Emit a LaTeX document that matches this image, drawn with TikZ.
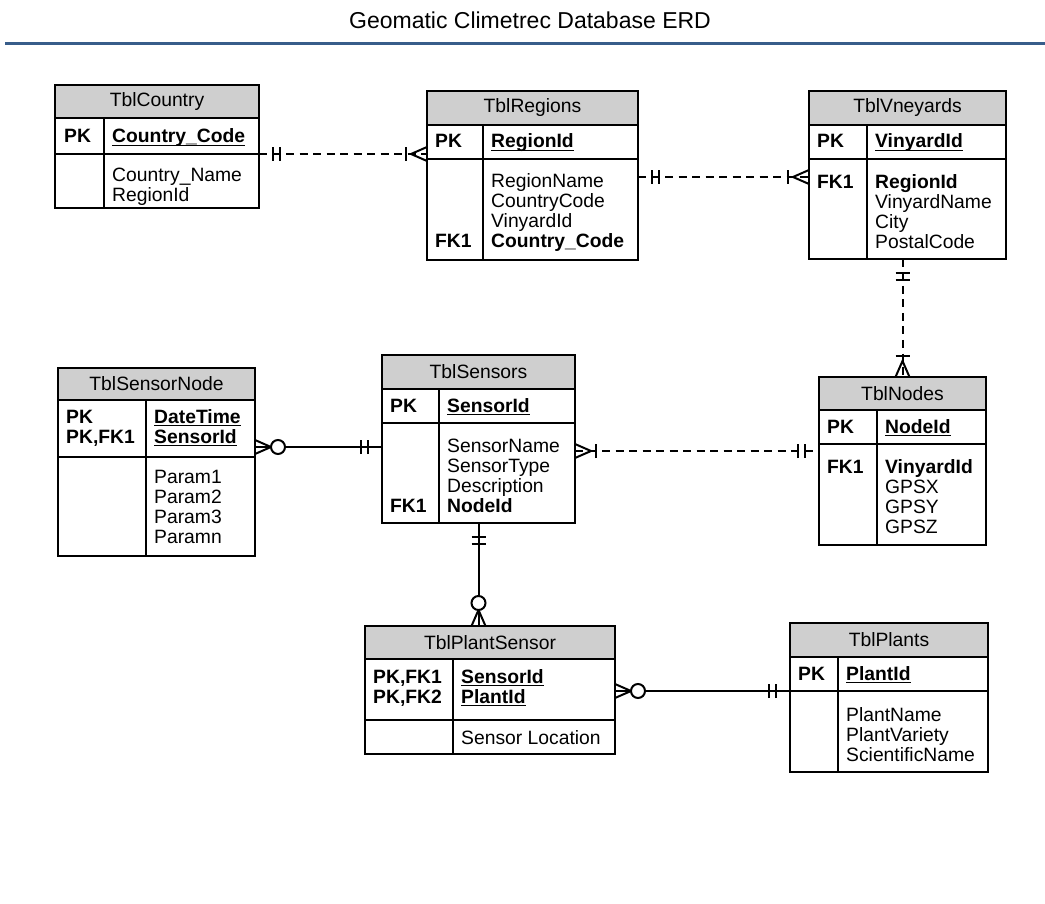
\documentclass[tikz,border=0pt]{standalone}
\usepackage{fontspec}
\setmainfont{Liberation Sans}
\usetikzlibrary{arrows,calc,positioning,decorations.markings}
\definecolor{erd_grey}{RGB}{207, 207, 207}
\definecolor{erd_blue}{RGB}{56, 93, 138}
\newcommand{\ulkey}[1]{\setbox0\hbox{#1}\rlap{\rule[-3pt]{\wd0}{1.3pt}}\box0}
\tikzstyle{ttl}=[inner sep=0pt,font=\fontsize{23}{26}\selectfont]
\tikzstyle{hd}=[rectangle,fill=erd_grey,draw=black,line width=1.5pt,
  inner sep=0pt,outer sep=0pt,anchor=north west,font=\fontsize{19.3}{20}\selectfont]
\tikzstyle{tb}=[rectangle,fill=white,draw=black,line width=1.5pt,
  inner sep=0pt,outer sep=0pt]
\tikzstyle{sep}=[line width=1.5pt]
% base of a text = base of its last line
\tikzstyle{kt}=[anchor=base west,inner sep=0pt,align=left,
  font=\bfseries\fontsize{19.3}{20}\selectfont]
\tikzstyle{ft}=[anchor=base west,inner sep=0pt,align=left,
  font=\fontsize{19.3}{20}\selectfont]
\tikzstyle{rel}=[line width=2pt]
\tikzstyle{dsh}=[line width=2pt,dash pattern=on 8pt off 5.5pt]
% crow's foot ends
\tikzstyle{onestart}=[postaction={decorate,decoration={markings,
  mark=at position 14pt with {\draw [solid] (0pt,-7pt) -- (0pt,7pt);},
  mark=at position 21pt with {\draw [solid] (0pt,-7pt) -- (0pt,7pt);}}}]
\tikzstyle{oneend}=[postaction={decorate,decoration={markings,
  mark=at position -14pt with {\draw [solid] (0pt,-7pt) -- (0pt,7pt);},
  mark=at position -21pt with {\draw [solid] (0pt,-7pt) -- (0pt,7pt);}}}]
\tikzstyle{manystart}=[postaction={decorate,decoration={markings,
  mark=at position 16pt with {\draw [solid] (-16pt,-7pt) -- (0pt,0pt) -- (-16pt,7pt);},
  mark=at position 21pt with {\draw [solid] (0pt,-7pt) -- (0pt,7pt);}}}]
\tikzstyle{manyend}=[postaction={decorate,decoration={markings,
  mark=at position -16pt with {\draw [solid] (16pt,-7pt) -- (0pt,0pt) -- (16pt,7pt);},
  mark=at position -21pt with {\draw [solid] (0pt,-7pt) -- (0pt,7pt);}}}]
\tikzstyle{zmstart}=[postaction={decorate,decoration={markings,
  mark=at position 16pt with {\draw [solid] (-16pt,-7pt) -- (0pt,0pt) -- (-16pt,7pt);},
  mark=at position 23pt with {\draw [solid,fill=white] (0pt,0pt) circle (7pt);}}}]
\tikzstyle{zmend}=[postaction={decorate,decoration={markings,
  mark=at position -16pt with {\draw [solid] (16pt,-7pt) -- (0pt,0pt) -- (16pt,7pt);},
  mark=at position -23pt with {\draw [solid,fill=white] (0pt,0pt) circle (7pt);}}}]

\begin{document}
\begin{tikzpicture}[x=1pt,y=-1pt]
  \useasboundingbox (0,0) rectangle (1045,904);
  \node [style=ttl] (title) at (530,20) {Geomatic Climetrec Database ERD};
  \draw [erd_blue, line width=3pt] (5,44) -- (1045,44);

  % TblCountry
  \node [style=hd, minimum width=204pt, minimum height=33pt] (country) at (55,85) {TblCountry};
  \node [style=tb, minimum width=204pt, minimum height=36pt, below=0pt of country] (country_pk) {};
  \node [style=tb, minimum width=204pt, minimum height=54pt, below=0pt of country_pk] (country_body) {};
  \draw [style=sep] ([xshift=49pt]country_pk.north west) -- ([xshift=49pt]country_body.south west);
  \node [style=kt] (country_k) at (64,143) {PK};
  \node [style=ft] (country_f) at (112,143) {\textbf{\ulkey{Country\_Code}}};
  \node [style=ft] (country_b) at (112,202) {Country\_Name\\RegionId};

  % TblRegions
  \node [style=hd, minimum width=211pt, minimum height=34pt] (regions) at (427,91) {TblRegions};
  \node [style=tb, minimum width=211pt, minimum height=34pt, below=0pt of regions] (regions_pk) {};
  \node [style=tb, minimum width=211pt, minimum height=101pt, below=0pt of regions_pk] (regions_body) {};
  \draw [style=sep] ([xshift=56pt]regions_pk.north west) -- ([xshift=56pt]regions_body.south west);
  \node [style=kt] (regions_k) at (435,148) {PK};
  \node [style=ft] (regions_f) at (491,148) {\textbf{\ulkey{RegionId}}};
  \node [style=kt] (regions_fk) at (435,248) {FK1};
  \node [style=ft] (regions_b) at (491,248) {RegionName\\CountryCode\\VinyardId\\\textbf{Country\_Code}};

  % TblVneyards
  \node [style=hd, minimum width=197pt, minimum height=34pt] (vneyards) at (809,91) {TblVneyards};
  \node [style=tb, minimum width=197pt, minimum height=34pt, below=0pt of vneyards] (vneyards_pk) {};
  \node [style=tb, minimum width=197pt, minimum height=100pt, below=0pt of vneyards_pk] (vneyards_body) {};
  \draw [style=sep] ([xshift=58pt]vneyards_pk.north west) -- ([xshift=58pt]vneyards_body.south west);
  \node [style=kt] (vneyards_k) at (817,148) {PK};
  \node [style=ft] (vneyards_f) at (875,148) {\textbf{\ulkey{VinyardId}}};
  \node [style=kt] (vneyards_fk) at (817,189) {FK1};
  \node [style=ft] (vneyards_b) at (875,249) {\textbf{RegionId}\\VinyardName\\City\\PostalCode};

  % TblSensorNode
  \node [style=hd, minimum width=197pt, minimum height=32pt] (sensornode) at (58,368) {TblSensorNode};
  \node [style=tb, minimum width=197pt, minimum height=57pt, below=0pt of sensornode] (sensornode_pk) {};
  \node [style=tb, minimum width=197pt, minimum height=99pt, below=0pt of sensornode_pk] (sensornode_body) {};
  \draw [style=sep] ([xshift=88pt]sensornode_pk.north west) -- ([xshift=88pt]sensornode_body.south west);
  \node [style=kt] (sensornode_k) at (66,443) {PK\\PK,FK1};
  \node [style=ft] (sensornode_f) at (154,443) {\textbf{\ulkey{DateTime}}\\\textbf{\ulkey{SensorId}}};
  \node [style=ft] (sensornode_b) at (154,543) {Param1\\Param2\\Param3\\Paramn};

  % TblSensors
  \node [style=hd, minimum width=193pt, minimum height=34pt] (sensors) at (382,355) {TblSensors};
  \node [style=tb, minimum width=193pt, minimum height=34pt, below=0pt of sensors] (sensors_pk) {};
  \node [style=tb, minimum width=193pt, minimum height=100pt, below=0pt of sensors_pk] (sensors_body) {};
  \draw [style=sep] ([xshift=57pt]sensors_pk.north west) -- ([xshift=57pt]sensors_body.south west);
  \node [style=kt] (sensors_k) at (390,412) {PK};
  \node [style=ft] (sensors_f) at (447,412) {\textbf{\ulkey{SensorId}}};
  \node [style=kt] (sensors_fk) at (390,512) {FK1};
  \node [style=ft] (sensors_b) at (447,512) {SensorName\\SensorType\\Description\\\textbf{NodeId}};

  % TblNodes
  \node [style=hd, minimum width=167pt, minimum height=33pt] (nodes) at (819,377) {TblNodes};
  \node [style=tb, minimum width=167pt, minimum height=34pt, below=0pt of nodes] (nodes_pk) {};
  \node [style=tb, minimum width=167pt, minimum height=101pt, below=0pt of nodes_pk] (nodes_body) {};
  \draw [style=sep] ([xshift=58pt]nodes_pk.north west) -- ([xshift=58pt]nodes_body.south west);
  \node [style=kt] (nodes_k) at (827,433) {PK};
  \node [style=ft] (nodes_f) at (885,433) {\textbf{\ulkey{NodeId}}};
  \node [style=kt] (nodes_fk) at (827,473) {FK1};
  \node [style=ft] (nodes_b) at (885,533) {\textbf{VinyardId}\\GPSX\\GPSY\\GPSZ};

  % TblPlantSensor
  \node [style=hd, minimum width=250pt, minimum height=33pt] (plantsensor) at (365,626) {TblPlantSensor};
  \node [style=tb, minimum width=250pt, minimum height=61pt, below=0pt of plantsensor] (plantsensor_pk) {};
  \node [style=tb, minimum width=250pt, minimum height=34pt, below=0pt of plantsensor_pk] (plantsensor_body) {};
  \draw [style=sep] ([xshift=88pt]plantsensor_pk.north west) -- ([xshift=88pt]plantsensor_body.south west);
  \node [style=kt] (plantsensor_k) at (373,703) {PK,FK1\\PK,FK2};
  \node [style=ft] (plantsensor_f) at (461,703) {\textbf{\ulkey{SensorId}}\\\textbf{\ulkey{PlantId}}};
  \node [style=ft] (plantsensor_b) at (461,744) {Sensor Location};

  % TblPlants
  \node [style=hd, minimum width=198pt, minimum height=34pt] (plants) at (790,623) {TblPlants};
  \node [style=tb, minimum width=198pt, minimum height=34pt, below=0pt of plants] (plants_pk) {};
  \node [style=tb, minimum width=198pt, minimum height=81pt, below=0pt of plants_pk] (plants_body) {};
  \draw [style=sep] ([xshift=48pt]plants_pk.north west) -- ([xshift=48pt]plants_body.south west);
  \node [style=kt] (plants_k) at (798,680) {PK};
  \node [style=ft] (plants_f) at (846,680) {\textbf{\ulkey{PlantId}}};
  \node [style=ft] (plants_b) at (846,761) {PlantName\\PlantVariety\\ScientificName};

  % relations
  \coordinate (r2) at ([yshift=-18pt]regions_body.north east);
  \coordinate (r4) at ([yshift=10pt]sensornode_pk.south east);
  \coordinate (r5) at ([yshift=-7pt]nodes_body.north west);
  \draw [style=dsh, onestart, manyend] (country_pk.south east) -- (country_pk.south east -| regions_pk.west);
  \draw [style=dsh, onestart, manyend] (r2) -- (r2 -| vneyards_body.west);
  \draw [style=dsh, onestart, manyend] (vneyards_body.south -| nodes.north) -- (nodes.north);
  \draw [style=rel, zmstart, oneend] (r4) -- (r4 -| sensors_body.west);
  \draw [style=dsh, manystart, oneend] (r5 -| sensors_body.east) -- (r5);
  \draw [style=rel, onestart, zmend] (sensors_body.south) -- (sensors_body.south |- plantsensor.north);
  \draw [style=rel, zmstart, oneend] (plants_pk.south west -| plantsensor_pk.east) -- (plants_pk.south west);
\end{tikzpicture}
\end{document}
